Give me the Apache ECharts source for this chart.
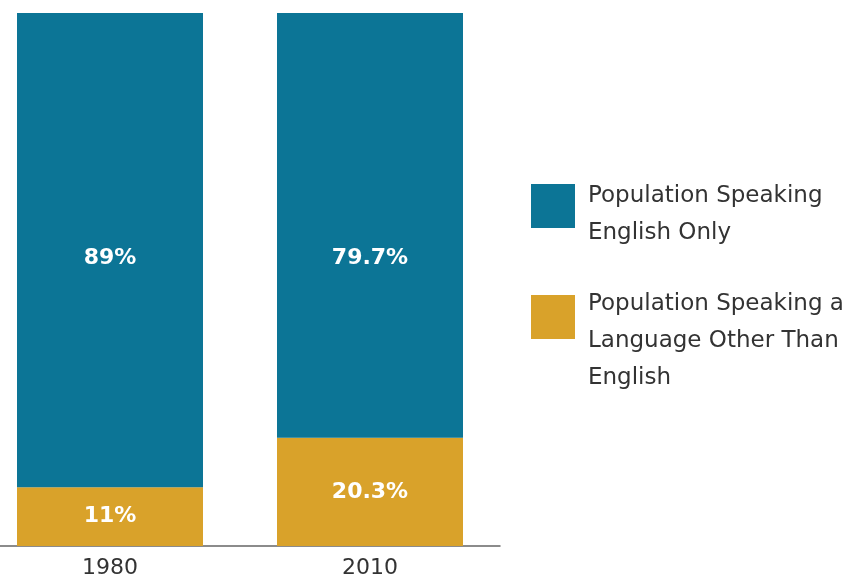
<!DOCTYPE html>
<html><head><meta charset="utf-8">
<script src="https://cdn.jsdelivr.net/npm/echarts@6/dist/echarts.min.js"></script>
<style>html,body{margin:0;padding:0;background:#fff}#c{width:858px;height:580px}</style>
</head><body><div id="c"></div>
<script>
var categories = ['1980', '2010'];
var englishOnly = [89, 79.7];
var otherLanguage = [11, 20.3];
var seriesNames = ['Population Speaking\nEnglish Only', 'Population Speaking a\nLanguage Other Than\nEnglish'];

var chart = echarts.init(document.getElementById('c'));
var font = '"DejaVu Sans", sans-serif';
var labelStyle = {
  show: true, color: '#fff', fontWeight: 'bold', fontSize: 22, fontFamily: font,
  formatter: function (p) { return p.value + '%'; }
};
chart.setOption({
  animation: false,
  grid: { left: -20, right: 358, top: 13, bottom: 34, outerBoundsMode: 'none', containLabel: false },
  xAxis: {
    type: 'category', data: categories,
    axisLine: { lineStyle: { color: '#666', width: 1.5 } },
    axisTick: { show: false },
    axisLabel: { color: '#333', fontSize: 22, fontFamily: font, margin: 11 }
  },
  yAxis: { type: 'value', min: 0, max: 100, show: false },
  legend: {
    orient: 'vertical', left: 531, top: 160.5, padding: 0,
    itemWidth: 44, itemHeight: 44, itemGap: -14, icon: 'rect',
    formatter: function (name) {
      return name.split('\n').map(function (s) { return '{t|' + s + '}'; }).join('\n');
    },
    textStyle: {
      color: '#333', fontSize: 23, fontFamily: font, lineHeight: 37,
      rich: { t: { color: '#333', fontSize: 23, fontFamily: font, lineHeight: 37 } }
    },
    data: [
      { name: seriesNames[0], textStyle: { padding: [17, 0, 0, 8] } },
      { name: seriesNames[1], textStyle: { padding: [48, 0, 0, 8] } }
    ]
  },
  series: [
    {
      name: seriesNames[1], type: 'bar', stack: 's', data: otherLanguage, barWidth: 186,
      itemStyle: { color: '#d9a22a' },
      label: Object.assign({ position: 'inside' }, labelStyle)
    },
    {
      name: seriesNames[0], type: 'bar', stack: 's', data: englishOnly, barWidth: 186,
      itemStyle: { color: '#0c7596' },
      label: Object.assign({ position: ['50%', 245], align: 'center', verticalAlign: 'middle' }, labelStyle)
    }
  ]
});
</script></body></html>
